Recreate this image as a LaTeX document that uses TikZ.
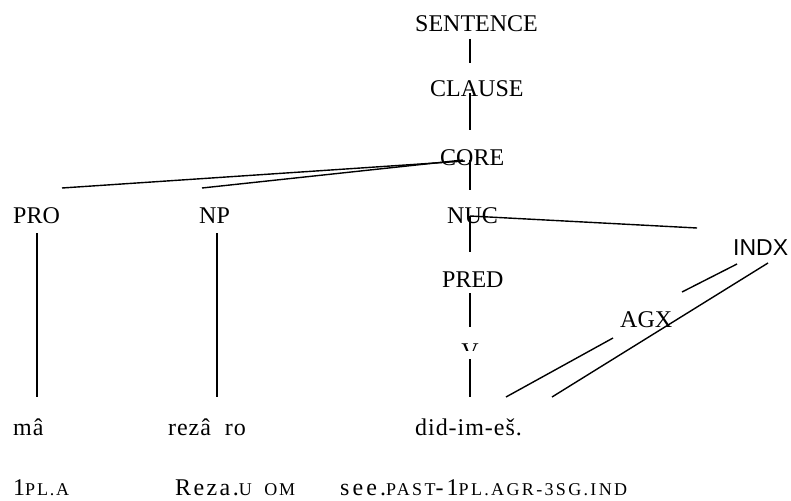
\documentclass[tikz,border=0pt]{standalone}
\usepackage{fontspec}
\setmainfont{Liberation Serif}
\newfontfamily\sansf{Liberation Sans}
\newcommand\smcap[1]{{\fontsize{18}{18}\selectfont #1}}
\begin{document}
\begin{tikzpicture}[x=1pt,y=-1pt,
  lbl/.style={anchor=base west, inner sep=0pt, font=\fontsize{24}{28}\selectfont},
  glosslbl/.style={lbl, font=\fontsize{24}{28}\selectfont\addfontfeatures{LetterSpace=10}},
  wideglosslbl/.style={lbl, font=\fontsize{24}{28}\selectfont\addfontfeatures{LetterSpace=13}},
  wordlbl/.style={lbl, font=\fontsize{24}{28}\selectfont\addfontfeatures{LetterSpace=4}},
  edge/.style={line width=1.4pt}]
\useasboundingbox[fill=white] (0,0) rectangle (791,500);
% labels
\node[lbl] (sentence) at (415,32) {SENTENCE};
\node[lbl] (clause) at (430,97) {CLAUSE};
\node[lbl] (core) at (440,165) {CORE};
\node[lbl] (pro) at (13,223) {PRO};
\node[lbl] (np) at (199,223) {NP};
\node[lbl] (nuc) at (447,223) {NUC};
\node[lbl, font=\sansf\fontsize{23}{28}\selectfont] (indx) at (733,255) {INDX};
\node[lbl] (pred) at (442,287) {PRED};
\node[lbl] (agx) at (620,327) {AGX};
\begin{scope}
  \clip (440,338) rectangle (500,350);
  \node[lbl, anchor=base] (v) at (470,359) {V};
\end{scope}
\node[wordlbl] (ma) at (13,435) {mâ};
\node[wordlbl] (reza) at (168,435) {rezâ\ \ ro};
\node[wordlbl] (did) at (415,435) {did-im-eš.};
\node[glosslbl] (g1) at (13,495) {1\smcap{PL.A}};
\node[glosslbl] (g2) at (175,495) {Reza.\smcap{U\ \ OM}};
\node[wideglosslbl] (g3) at (340,495) {see.\smcap{PAST}-1\smcap{PL.AGR-3SG.IND}};
% connector ends
\coordinate (s1) at (470,39);   \coordinate (c1) at (470,63);
\coordinate (c2) at (470,93);   \coordinate (k1) at (470,130);
\coordinate (k2) at (465,161);  \coordinate (k3) at (463,160);
\coordinate (k4) at (470,160);  \coordinate (n1) at (470,190);
\coordinate (p1) at (62,188);   \coordinate (np1) at (202,188);
\coordinate (n2) at (470,216);  \coordinate (pr1) at (470,252);
\coordinate (i1) at (697,228);
\coordinate (pr2) at (470,293); \coordinate (v1) at (470,327);
\coordinate (v2) at (470,359);  \coordinate (d1) at (470,397);
\coordinate (p2) at (37,233);   \coordinate (m1) at (37,397);
\coordinate (np2) at (217,233); \coordinate (r1) at (217,397);
\coordinate (i2) at (737,264);  \coordinate (a1) at (682,292);
\coordinate (a2) at (613,338);  \coordinate (d2) at (506,397);
\coordinate (i3) at (768,263);  \coordinate (d3) at (552,397);
% connectors
\draw[edge] (s1) -- (c1);
\draw[edge] (c2) -- (k1);
\draw[edge] (p1) -- (k2);
\draw[edge] (np1) -- (k3);
\draw[edge] (k4) -- (n1);
\draw[edge] (n2) -- (pr1);
\draw[edge] (n2) -- (i1);
\draw[edge] (pr2) -- (v1);
\draw[edge] (v2) -- (d1);
\draw[edge] (p2) -- (m1);
\draw[edge] (np2) -- (r1);
\draw[edge] (i2) -- (a1);
\draw[edge] (a2) -- (d2);
\draw[edge] (i3) -- (d3);
\end{tikzpicture}
\end{document}
